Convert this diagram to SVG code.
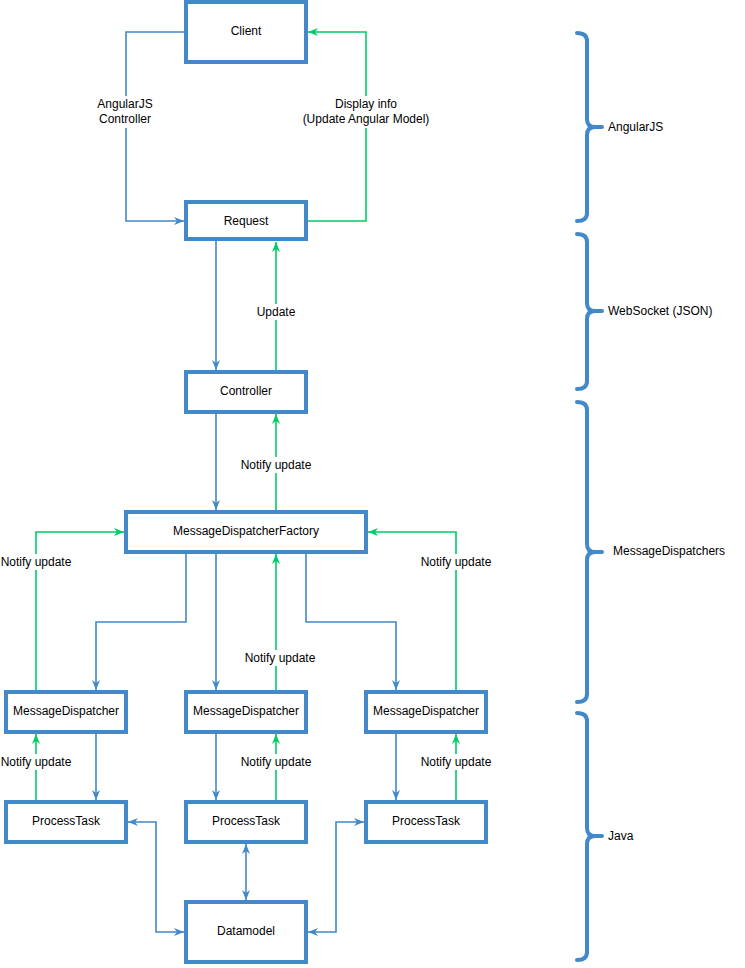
<svg xmlns="http://www.w3.org/2000/svg" width="745" height="968" viewBox="0 0 745 968">
<defs>
<style>
.node{fill:#fff;stroke:#4388C8;stroke-width:4}
.t{font-family:"Liberation Sans",Arial,sans-serif;font-size:12px;fill:#000;text-anchor:middle;dominant-baseline:central}
.tl{font-family:"Liberation Sans",Arial,sans-serif;font-size:12px;fill:#000;dominant-baseline:central}
.b{fill:none;stroke:#4388C8;stroke-width:1.6}
.g{fill:none;stroke:#00CC66;stroke-width:1.6}
.brace{fill:none;stroke:#4388C8;stroke-width:4;stroke-linecap:round;stroke-linejoin:round}
.lbg{fill:#fff}
</style>
<marker id="ab" viewBox="0 0 10 10" refX="10" refY="5" markerWidth="10" markerHeight="10" markerUnits="userSpaceOnUse" orient="auto-start-reverse"><path d="M0,1 L10,5 L0,9 L3,5 z" fill="#4388C8"/></marker>
<marker id="ag" viewBox="0 0 10 10" refX="10" refY="5" markerWidth="10" markerHeight="10" markerUnits="userSpaceOnUse" orient="auto-start-reverse"><path d="M0,1 L10,5 L0,9 L3,5 z" fill="#00CC66"/></marker>
</defs>
<rect width="745" height="968" fill="#fff"/>
<g id="connectors">
<path class="b" d="M186,32 H126 V221 H184" marker-end="url(#ab)"/>
<path class="g" d="M306,221 H366 V32 H308" marker-end="url(#ag)"/>
<path class="b" d="M216,240 V370" marker-end="url(#ab)"/>
<path class="g" d="M276,370 V242" marker-end="url(#ag)"/>
<path class="b" d="M216,414 V510" marker-end="url(#ab)"/>
<path class="g" d="M276,510 V414" marker-end="url(#ag)"/>
<path class="b" d="M186,554 V622 H96 V690" marker-end="url(#ab)"/>
<path class="b" d="M216,554 V690" marker-end="url(#ab)"/>
<path class="b" d="M306,554 V622 H396 V690" marker-end="url(#ab)"/>
<path class="g" d="M36,690 V532 H124" marker-end="url(#ag)"/>
<path class="g" d="M276,690 V554" marker-end="url(#ag)"/>
<path class="g" d="M456,690 V532 H368" marker-end="url(#ag)"/>
<path class="b" d="M96,734 V800" marker-end="url(#ab)"/>
<path class="g" d="M36,800 V734" marker-end="url(#ag)"/>
<path class="b" d="M216,734 V800" marker-end="url(#ab)"/>
<path class="g" d="M276,800 V734" marker-end="url(#ag)"/>
<path class="b" d="M396,734 V800" marker-end="url(#ab)"/>
<path class="g" d="M456,800 V734" marker-end="url(#ag)"/>
<path class="b" d="M128,822 H156 V932 H184" marker-start="url(#ab)" marker-end="url(#ab)"/>
<path class="b" d="M246,844 V900" marker-start="url(#ab)" marker-end="url(#ab)"/>
<path class="b" d="M308,932 H336 V822 H364" marker-start="url(#ab)" marker-end="url(#ab)"/>
</g>
<g id="labels">
<rect class="lbg" x="94" y="96" width="64" height="32"/>
<text class="t" x="125" y="104">AngularJS</text>
<text class="t" x="125" y="119">Controller</text>
<rect class="lbg" x="298" y="96" width="136" height="32"/>
<text class="t" x="366" y="104">Display info</text>
<text class="t" x="366" y="119">(Update Angular Model)</text>
<rect class="lbg" x="254" y="304" width="44" height="16"/>
<text class="t" x="276" y="312">Update</text>
<rect class="lbg" x="240" y="457" width="72" height="16"/>
<text class="t" x="276" y="465">Notify update</text>
<rect class="lbg" x="0" y="554" width="72" height="16"/>
<text class="t" x="36" y="562">Notify update</text>
<rect class="lbg" x="420" y="554" width="72" height="16"/>
<text class="t" x="456" y="562">Notify update</text>
<rect class="lbg" x="240" y="650" width="72" height="16"/>
<text class="t" x="280" y="658">Notify update</text>
<rect class="lbg" x="0" y="754" width="72" height="16"/>
<text class="t" x="36" y="762">Notify update</text>
<rect class="lbg" x="240" y="754" width="72" height="16"/>
<text class="t" x="276" y="762">Notify update</text>
<rect class="lbg" x="420" y="754" width="72" height="16"/>
<text class="t" x="456" y="762">Notify update</text>
</g>
<g id="client"><rect class="node" x="186" y="2" width="120" height="60"/><text class="t" x="246" y="31">Client</text></g>
<g id="request"><rect class="node" x="186" y="202" width="120" height="37"/><text class="t" x="246" y="221">Request</text></g>
<g id="controller"><rect class="node" x="186" y="372" width="120" height="40"/><text class="t" x="246" y="391">Controller</text></g>
<g id="mdf"><rect class="node" x="126" y="512" width="240" height="40"/><text class="t" x="246" y="531">MessageDispatcherFactory</text></g>
<g id="md1"><rect class="node" x="6" y="692" width="120" height="40"/><text class="t" x="66" y="711">MessageDispatcher</text></g>
<g id="md2"><rect class="node" x="186" y="692" width="120" height="40"/><text class="t" x="246" y="711">MessageDispatcher</text></g>
<g id="md3"><rect class="node" x="366" y="692" width="120" height="40"/><text class="t" x="426" y="711">MessageDispatcher</text></g>
<g id="pt1"><rect class="node" x="6" y="802" width="120" height="40"/><text class="t" x="66" y="821">ProcessTask</text></g>
<g id="pt2"><rect class="node" x="186" y="802" width="120" height="40"/><text class="t" x="246" y="821">ProcessTask</text></g>
<g id="pt3"><rect class="node" x="366" y="802" width="120" height="40"/><text class="t" x="426" y="821">ProcessTask</text></g>
<g id="datamodel"><rect class="node" x="186" y="902" width="120" height="60"/><text class="t" x="246" y="931">Datamodel</text></g>
<g id="braces">
<path class="brace" d="M577,33 Q587,33 587,41 V119 Q587,127 595,127 H602 M595,127 Q587,127 587,135 V213 Q587,221 577,221"/>
<text class="tl" x="608" y="127">AngularJS</text>
<path class="brace" d="M577,234 Q587,234 587,242 V303 Q587,311 595,311 H602 M595,311 Q587,311 587,319 V381 Q587,389 577,389"/>
<text class="tl" x="608" y="311">WebSocket (JSON)</text>
<path class="brace" d="M577,402 Q587,402 587,410 V544 Q587,552 595,552 H602 M595,552 Q587,552 587,560 V694 Q587,702 577,702"/>
<text class="tl" x="613" y="551">MessageDispatchers</text>
<path class="brace" d="M577,713 Q587,713 587,721 V828 Q587,836 595,836 H602 M595,836 Q587,836 587,844 V952 Q587,960 577,960"/>
<text class="tl" x="608" y="836">Java</text>
</g>
</svg>
